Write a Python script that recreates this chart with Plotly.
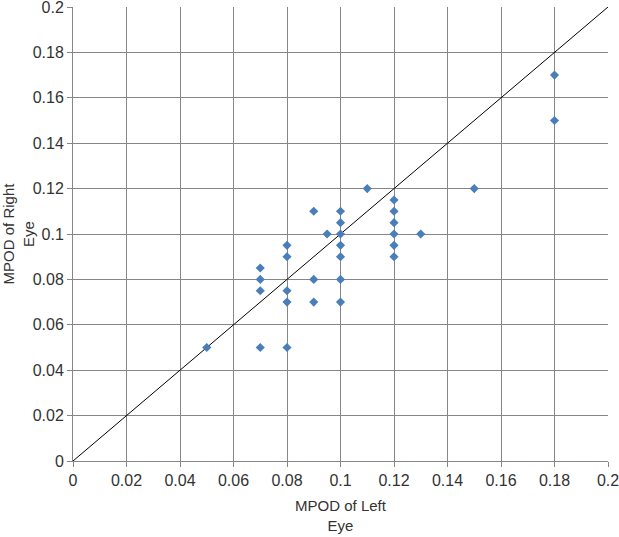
import plotly.graph_objects as go

# MPOD values
left_eye = [0.05, 0.07, 0.08,
            0.07, 0.07, 0.07,
            0.08, 0.08, 0.08, 0.08,
            0.09, 0.09, 0.09,
            0.095,
            0.1, 0.1, 0.1, 0.1, 0.1, 0.1, 0.1,
            0.11,
            0.12, 0.12, 0.12, 0.12, 0.12, 0.12,
            0.13, 0.15, 0.18, 0.18]
right_eye = [0.05, 0.05, 0.05,
             0.085, 0.08, 0.075,
             0.095, 0.09, 0.075, 0.07,
             0.11, 0.08, 0.07,
             0.1,
             0.11, 0.105, 0.1, 0.095, 0.09, 0.08, 0.07,
             0.12,
             0.115, 0.11, 0.105, 0.1, 0.095, 0.09,
             0.1, 0.12, 0.17, 0.15]
identity = [0, 0.2]

fig = go.Figure()
fig.add_trace(go.Scatter(x=identity, y=identity, mode="lines",
                         line=dict(color="#000000", width=1), hoverinfo="skip"))
fig.add_trace(go.Scatter(x=left_eye, y=right_eye, mode="markers",
                         marker=dict(symbol="diamond", size=7, color="#4a7ebb")))

axis_style = dict(range=[0, 0.2], dtick=0.02, showgrid=True, gridcolor="#868686",
                  gridwidth=1, showline=True, linecolor="#868686", linewidth=1,
                  ticks="outside", ticklen=5, tickcolor="#868686", zeroline=False,
                  automargin=False, ticklabeloverflow="allow",
                  tickfont=dict(size=16, color="#333333"))

fig.update_layout(
    width=619, height=537,
    margin=dict(l=73, r=11, t=7, b=76),
    paper_bgcolor="white", plot_bgcolor="white",
    showlegend=False,
    font=dict(family="Liberation Sans, Arial", color="#333333"),
    xaxis=dict(axis_style, title=dict(text="MPOD of Left<br>Eye", font=dict(size=15), standoff=12)),
    yaxis=dict(axis_style, title=dict(text="MPOD of Right<br>Eye", font=dict(size=15), standoff=2)),
)
# drop the default page margin so the figure fills the window
fig.write_html("out.html", config={"displayModeBar": False},
               post_script="document.body.style.margin='0';")
